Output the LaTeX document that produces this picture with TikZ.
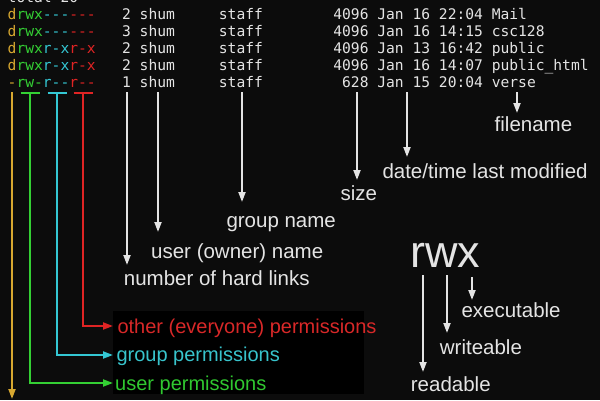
\documentclass[tikz,border=0pt]{standalone}
\usepackage{fontspec}
\setmainfont{Liberation Sans}
\setmonofont{DejaVu Sans Mono}
\usetikzlibrary{arrows.meta}
\definecolor{bg}{HTML}{0C0C0C}
\definecolor{fg}{HTML}{E4E4E4}
\definecolor{cy}{HTML}{D8A830}
\definecolor{cg}{HTML}{34D034}
\definecolor{cc}{HTML}{34C8D4}
\definecolor{cr}{HTML}{E02424}
\definecolor{lr}{HTML}{D82828}
\definecolor{lg}{HTML}{30C830}
\definecolor{lc}{HTML}{38C4CC}
\newcommand\perm[4]{\textcolor{cy}{#1}\textcolor{cg}{#2}\textcolor{cc}{#3}\textcolor{cr}{#4}}
\begin{document}
\begin{tikzpicture}[x=1pt,y=-1pt,
  row/.style={anchor=base west, inner sep=0pt, text=fg, font=\ttfamily\fontsize{14.62}{17}\selectfont},
  lab/.style={anchor=base west, inner sep=0pt, text=fg, font=\fontsize{20.5}{24}\selectfont},
  plab/.style={anchor=base west, inner sep=0pt, font=\fontsize{20}{24}\selectfont},
  arr/.style={draw=fg, line width=2pt, -{Triangle[width=7pt,length=10pt]}},
  carr/.style={line width=2pt, -{Triangle[width=7pt,length=10pt]}},
  bar/.style={line width=2pt}]
\useasboundingbox (0,0) rectangle (600,400);
\fill[bg] (0,0) rectangle (600,400);
\fill[black] (113,311) rectangle (364,394);

% listing
\node[row] (r0) at (7.5,2) {total~20};
\node[row] (r1) at (7.5,19) {\perm{d}{rwx}{---}{---}~~~2~shum~~~~~staff~~~~~~~~4096~Jan~16~22:04~Mail};
\node[row] (r2) at (7.5,36) {\perm{d}{rwx}{---}{---}~~~3~shum~~~~~staff~~~~~~~~4096~Jan~16~14:15~csc128};
\node[row] (r3) at (7.5,53) {\perm{d}{rwx}{r-x}{r-x}~~~2~shum~~~~~staff~~~~~~~~4096~Jan~13~16:42~public};
\node[row] (r4) at (7.5,70) {\perm{d}{rwx}{r-x}{r-x}~~~2~shum~~~~~staff~~~~~~~~4096~Jan~16~14:07~public\_html};
\node[row] (r5) at (7.5,87) {\perm{-}{rw-}{r--}{r--}~~~1~shum~~~~~staff~~~~~~~~~628~Jan~15~20:04~verse};

% white labels
\node[lab] (fname) at (494.5,131) {filename};
\node[lab] (date) at (382.3,178) {date/time last modified};
\node[lab] (size) at (340.4,200) {size};
\node[lab] (group) at (226.3,227) {group name};
\node[lab] (user) at (151,258) {user (owner) name};
\node[lab] (links) at (123.7,285) {number of hard links};

% coloured labels
\node[plab, text=lr] (oth) at (117.3,333) {other (everyone) permissions};
\node[plab, text=lc] (gp) at (116.3,361) {group permissions};
\node[plab, text=lg] (up) at (115,390) {user permissions};

% rwx legend
\node[anchor=base west, inner sep=0pt, text=fg, font=\fontsize{45}{50}\selectfont] (rwx) at (410,267) {rwx};
\node[lab] (exe) at (461.3,317) {executable};
\node[lab] (wr) at (439.7,354) {writeable};
\node[lab] (rd) at (410.7,391) {readable};

% coordinates
\coordinate (fa) at (517,92);  \coordinate (fb) at (517,113);
\coordinate (da) at (407,92);  \coordinate (db) at (407,157);
\coordinate (sa) at (357,92);  \coordinate (sb) at (357,180);
\coordinate (ga) at (242,92);  \coordinate (gb) at (242,202);
\coordinate (ua) at (158,92);  \coordinate (ub) at (158,232);
\coordinate (la) at (127,92);  \coordinate (lb) at (127,265);
\coordinate (ra) at (423,275); \coordinate (rb) at (423,372);
\coordinate (wa) at (447,275); \coordinate (wb) at (447,333);
\coordinate (xa) at (472,277); \coordinate (xb) at (472,300);
\coordinate (yt) at (12,92);   \coordinate (yb) at (12,399);
\coordinate (gt) at (30,93);   \coordinate (ge) at (113,383);
\coordinate (ct) at (57,93);   \coordinate (ce) at (113,355);
\coordinate (rt) at (83,93);   \coordinate (re) at (113,326);

% white arrows
\draw[arr] (fa) -- (fb);
\draw[arr] (da) -- (db);
\draw[arr] (sa) -- (sb);
\draw[arr] (ga) -- (gb);
\draw[arr] (ua) -- (ub);
\draw[arr] (la) -- (lb);
\draw[arr] (ra) -- (rb);
\draw[arr] (wa) -- (wb);
\draw[arr] (xa) -- (xb);

% coloured arrows
\draw[carr, cy] (yt) -- (yb);
\draw[bar, cg] ([xshift=-9.5pt]gt) -- ([xshift=9.5pt]gt);
\draw[carr, cg] (gt) |- (ge);
\draw[bar, cc] ([xshift=-9.5pt]ct) -- ([xshift=9.5pt]ct);
\draw[carr, cc] (ct) |- (ce);
\draw[bar, cr] ([xshift=-9.5pt]rt) -- ([xshift=9.5pt]rt);
\draw[carr, cr] (rt) |- (re);
\end{tikzpicture}
\end{document}
